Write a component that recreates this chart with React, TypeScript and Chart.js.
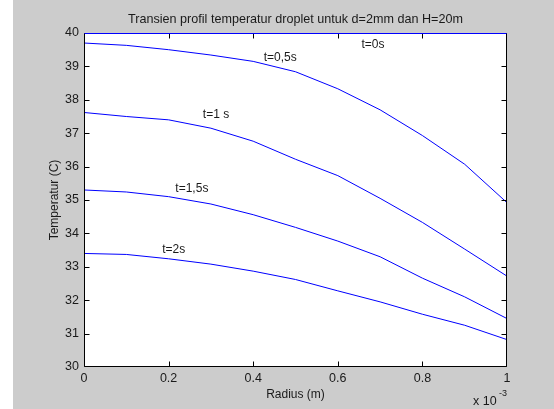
import React, { useEffect, useRef } from 'react';
import { Chart, registerables } from 'chart.js';

Chart.register(...registerables);

// Radius in units of 1e-3 m (axis shows "x 10^-3")
const radius = [0, 0.1, 0.2, 0.3, 0.4, 0.5, 0.6, 0.7, 0.8, 0.9, 1.0];

const temp_t0 = [40, 40, 40, 40, 40, 40, 40, 40, 40, 40, 40];
const temp_t05 = [39.7, 39.63, 39.5, 39.34, 39.15, 38.84, 38.33, 37.7, 36.93, 36.07, 34.92];
const temp_t1 = [37.62, 37.5, 37.4, 37.15, 36.76, 36.22, 35.73, 35.05, 34.33, 33.53, 32.72];
const temp_t15 = [35.3, 35.24, 35.1, 34.88, 34.56, 34.18, 33.77, 33.3, 32.66, 32.1, 31.45];
const temp_t2 = [33.4, 33.37, 33.24, 33.08, 32.87, 32.62, 32.28, 31.95, 31.58, 31.25, 30.82];

const seriesValues = [temp_t0, temp_t05, temp_t1, temp_t15, temp_t2];
const seriesNames = ['t=0s', 't=0,5s', 't=1 s', 't=1,5s', 't=2s'];

// Text annotations placed in data coordinates
const annText = ['t=0s', 't=0,5s', 't=1 s', 't=1,5s', 't=2s'];
const annX = [0.683, 0.464, 0.312, 0.255, 0.212];
const annY = [39.65, 39.25, 37.55, 35.35, 33.52];

const xTicks = [0, 0.2, 0.4, 0.6, 0.8, 1];
const xTickLabels = ['0', '0.2', '0.4', '0.6', '0.8', '1'];
const yTicks = [30, 31, 32, 33, 34, 35, 36, 37, 38, 39, 40];
const yTickLabels = ['30', '31', '32', '33', '34', '35', '36', '37', '38', '39', '40'];

const titleText = 'Transien profil temperatur droplet untuk d=2mm dan H=20m';
const xLabel = 'Radius (m)';
const yLabel = 'Temperatur (C)';

const FONT = '"Liberation Sans", Arial, sans-serif';

const matlabPlugin = {
  id: 'matlabStyle',
  beforeDraw(chart: any) {
    const { ctx, width, height, chartArea } = chart;
    ctx.save();
    ctx.fillStyle = '#ffffff';
    ctx.fillRect(0, 0, width, height);
    ctx.fillStyle = '#cccccc';
    ctx.fillRect(13, 0, width - 13, height);
    ctx.fillStyle = '#ffffff';
    ctx.fillRect(chartArea.left, chartArea.top, chartArea.right - chartArea.left, chartArea.bottom - chartArea.top);
    ctx.restore();
  },
  afterDatasetsDraw(chart: any) {
    const { ctx, chartArea, scales } = chart;
    const { left, right, top, bottom } = chartArea;
    ctx.save();
    ctx.strokeStyle = '#000000';
    ctx.lineWidth = 1;
    const L = Math.round(left) + 0.5;
    const R = Math.round(right) - 0.5;
    const T = Math.round(top) + 0.5;
    const B = Math.round(bottom) - 0.5;
    ctx.beginPath();
    ctx.moveTo(L, T);
    ctx.lineTo(L, B);
    ctx.lineTo(R, B);
    ctx.lineTo(R, T);
    ctx.stroke();
    // inward ticks
    const tl = 5;
    ctx.beginPath();
    xTicks.forEach((v) => {
      const px = Math.round(scales.x.getPixelForValue(v)) + 0.5;
      const pxc = Math.min(Math.max(px, L), R);
      ctx.moveTo(pxc, B);
      ctx.lineTo(pxc, B - tl);
      ctx.moveTo(pxc, T);
      ctx.lineTo(pxc, T + tl);
    });
    yTicks.forEach((v) => {
      const py = Math.round(scales.y.getPixelForValue(v)) + 0.5;
      const pyc = Math.min(Math.max(py, T), B);
      ctx.moveTo(L, pyc);
      ctx.lineTo(L + tl, pyc);
      ctx.moveTo(R, pyc);
      ctx.lineTo(R - tl, pyc);
    });
    ctx.stroke();
    // t=0 line sits on the top border
    ctx.strokeStyle = '#0000ff';
    ctx.beginPath();
    ctx.moveTo(L, Math.round(scales.y.getPixelForValue(temp_t0[0])) + 0.5);
    ctx.lineTo(R, Math.round(scales.y.getPixelForValue(temp_t0[temp_t0.length - 1])) + 0.5);
    ctx.stroke();

    ctx.fillStyle = '#1a1a1a';
    ctx.textBaseline = 'middle';

    // tick labels
    ctx.font = `12.5px ${FONT}`;
    ctx.textAlign = 'center';
    xTicks.forEach((v, i) => {
      ctx.fillText(xTickLabels[i], scales.x.getPixelForValue(v), 379);
    });
    ctx.textAlign = 'right';
    yTicks.forEach((v, i) => {
      ctx.fillText(yTickLabels[i], left - 5, scales.y.getPixelForValue(v));
    });

    // annotations
    ctx.font = `12px ${FONT}`;
    ctx.textAlign = 'center';
    annText.forEach((t, i) => {
      ctx.fillText(t, scales.x.getPixelForValue(annX[i]), scales.y.getPixelForValue(annY[i]));
    });

    const cx = (left + right) / 2;
    ctx.font = `12.6px ${FONT}`;
    ctx.fillText(titleText, cx, 20);
    ctx.font = `12px ${FONT}`;
    ctx.fillText(xLabel, cx, 395);
    ctx.save();
    ctx.translate(55, (top + bottom) / 2);
    ctx.rotate(-Math.PI / 2);
    ctx.fillText(yLabel, 0, 0);
    ctx.restore();
    ctx.textAlign = 'left';
    ctx.font = `12.5px ${FONT}`;
    ctx.fillText('x 10', 473, 402);
    ctx.font = `9px ${FONT}`;
    ctx.fillText('-3', 499, 394);
    ctx.restore();
  },
};

export default function App() {
  const canvasRef = useRef<HTMLCanvasElement | null>(null);

  useEffect(() => {
    document.body.style.margin = '0';
    const canvas = canvasRef.current;
    if (!canvas) return;
    const chart = new Chart(canvas, {
      type: 'line',
      data: {
        datasets: seriesValues.map((vals, si) => ({
          label: seriesNames[si],
          data: radius.map((x, i) => ({ x, y: vals[i] })),
          borderColor: '#0000ff',
          backgroundColor: '#0000ff',
          borderWidth: 1,
          pointRadius: 0,
          tension: 0,
          fill: false,
        })),
      },
      options: {
        animation: false,
        responsive: false,
        devicePixelRatio: 1,
        events: [],
        layout: { padding: { left: 84, top: 33, right: 47, bottom: 42 } },
        plugins: {
          legend: { display: false },
          tooltip: { enabled: false },
          title: { display: false },
        },
        scales: {
          x: { type: 'linear', min: 0, max: 1, display: false },
          y: { type: 'linear', min: 30, max: 40, display: false },
        },
      },
      plugins: [matlabPlugin],
    });
    return () => chart.destroy();
  }, []);

  return (
    <div style={{ width: 554, height: 409 }}>
      <canvas ref={canvasRef} width={554} height={409} style={{ display: 'block', width: 554, height: 409 }} />
    </div>
  );
}
